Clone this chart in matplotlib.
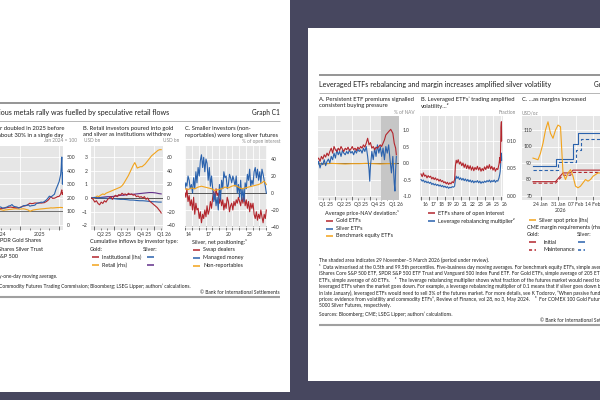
import matplotlib
matplotlib.use("Agg")
import matplotlib.pyplot as plt
import matplotlib.transforms as mtransforms
from matplotlib.patches import Rectangle
from matplotlib.lines import Line2D
from matplotlib.ticker import FormatStrFormatter

plt.rcParams['font.family'] = ['Lato', 'DejaVu Sans']

# ---------------- DATA ----------------
# Left slide, panel A (index, Jan 2024 = 100)
a_t = [2024.00, 2024.04, 2024.08, 2024.12, 2024.17, 2024.21, 2024.25, 2024.29, 2024.33, 2024.38,
       2024.42, 2024.46, 2024.50, 2024.54, 2024.58, 2024.62, 2024.67, 2024.71, 2024.75, 2024.79,
       2024.83, 2024.88, 2024.92, 2024.96, 2025.00, 2025.04, 2025.08, 2025.12, 2025.17, 2025.21,
       2025.25, 2025.29, 2025.33, 2025.38, 2025.42, 2025.46, 2025.50, 2025.54, 2025.58, 2025.62,
       2025.67, 2025.71, 2025.75, 2025.79, 2025.83, 2025.88, 2025.92, 2025.96, 2026.00, 2026.02,
       2026.04, 2026.055, 2026.065, 2026.07, 2026.08, 2026.085, 2026.09, 2026.095, 2026.10, 2026.105]
a_silver = [100, 98, 96, 99, 104, 113, 118, 124, 136, 135, 132, 128, 133, 125, 124, 128, 133, 140, 142, 150,
            138, 134, 132, 125, 128, 133, 141, 143, 145, 148, 138, 142, 143, 146, 158, 162, 164, 168, 166, 172,
            183, 196, 212, 205, 215, 226, 262, 290, 318, 345, 372, 420, 485, 500, 360, 300, 330, 385, 350, 370]
a_gold = [100, 99, 100, 103, 108, 114, 116, 114, 117, 116, 116, 118, 120, 121, 124, 125, 128, 130, 132, 130,
          128, 127, 126, 127, 130, 134, 139, 140, 144, 152, 160, 157, 158, 162, 161, 160, 162, 161, 163, 164,
          172, 180, 193, 210, 196, 197, 202, 209, 210, 218, 228, 242, 255, 258, 228, 225, 232, 238, 233, 236]
a_spx = [100, 101, 103, 105, 107, 106, 104, 107, 108, 110, 111, 112, 113, 110, 108, 111, 112, 114, 115, 116,
         118, 119, 118, 117, 116, 118, 119, 117, 113, 110, 100, 105, 110, 112, 114, 115, 117, 118, 119, 120,
         122, 123, 124, 126, 125, 126, 127, 128, 128, 129, 129, 129, 128, 128, 127, 127, 128, 128, 128, 128]
a_years = ['2024', '2025']

# Left slide, panel B (USD bn)
b_t_ret = [2025.22, 2025.25, 2025.27, 2025.29, 2025.31, 2025.33, 2025.36, 2025.38, 2025.40, 2025.42,
           2025.44, 2025.46, 2025.48, 2025.50, 2025.52, 2025.54, 2025.56, 2025.58, 2025.60, 2025.62,
           2025.64, 2025.66, 2025.68, 2025.70, 2025.72, 2025.74, 2025.76, 2025.78, 2025.79, 2025.81,
           2025.83, 2025.85, 2025.87, 2025.89, 2025.91, 2025.93, 2025.95, 2025.97, 2025.99, 2026.01,
           2026.03, 2026.05, 2026.07, 2026.09]
b_gold_retail = [0, -1, 1, 3, 2, 4, 6, 5, 7, 8, 9, 10, 11, 12, 13, 14, 15, 16, 18, 21,
                 25, 29, 33, 38, 43, 48, 52, 47, 44, 45, 46, 46, 48, 50, 53, 56, 59, 62, 64, 66,
                 68, 70, 71, 71]
b_t_inst = [2025.22, 2025.24, 2025.26, 2025.28, 2025.30, 2025.32, 2025.34, 2025.36, 2025.38, 2025.40,
            2025.42, 2025.44, 2025.46, 2025.48, 2025.50, 2025.52, 2025.54, 2025.56, 2025.58, 2025.60,
            2025.62, 2025.64, 2025.66, 2025.68, 2025.70, 2025.72, 2025.74, 2025.76, 2025.78, 2025.80,
            2025.82, 2025.84, 2025.86, 2025.88, 2025.90, 2025.92, 2025.94, 2025.96, 2025.98, 2026.00,
            2026.02, 2026.04, 2026.06, 2026.08, 2026.09]
b_gold_inst = [0, -0.1, -0.3, -0.2, -0.4, -0.5, -0.3, -0.4, -0.2, -0.3, -0.1, 0.0, 0.1, -0.1, 0.1,
               0.2, 0.1, 0.25, 0.2, 0.35, 0.25, 0.3, 0.2, 0.35, 0.25, 0.3, 0.2, 0.25, 0.1, 0.15,
               0.05, 0.1, 0.0, 0.1, -0.1, 0.0, -0.2, -0.3, -0.4, -0.5, -0.6, -0.7, -0.85, -1.0, -1.1]
b_t_slv = [2025.22, 2025.26, 2025.30, 2025.34, 2025.38, 2025.42, 2025.46, 2025.50, 2025.54, 2025.58,
           2025.62, 2025.66, 2025.70, 2025.74, 2025.78, 2025.82, 2025.86, 2025.90, 2025.94, 2025.98,
           2026.02, 2026.06, 2026.09]
b_silver_inst = [0, 0.05, 0.0, 0.02, 0.0, -0.02, -0.05, -0.05, -0.08, -0.1, -0.1, -0.12, -0.15, -0.15,
                 -0.18, -0.2, -0.2, -0.22, -0.25, -0.27, -0.28, -0.3, -0.3]
b_silver_retail = [0, 0.5, 0.2, 1, 1.5, 2, 2, 2.5, 3, 4, 4, 5, 5.5, 5.5, 6, 6.5, 7, 7.5, 8, 8, 7.5, 6.5, 6]
b_quarters = ['Q2 25', 'Q3 25', 'Q4 25', 'Q1 26']

# Left slide, panel C (% of open interest)
c_t = [2013.95, 2014.07, 2014.23, 2014.40, 2014.57, 2014.73, 2014.90, 2015.07, 2015.23, 2015.40,
       2015.57, 2015.73, 2015.90, 2016.07, 2016.23, 2016.40, 2016.57, 2016.73, 2016.90, 2017.07,
       2017.23, 2017.40, 2017.57, 2017.73, 2017.90, 2018.07, 2018.23, 2018.40, 2018.57, 2018.73,
       2018.90, 2019.07, 2019.23, 2019.40, 2019.57, 2019.73, 2019.90, 2020.07, 2020.23, 2020.40,
       2020.57, 2020.73, 2020.90, 2021.07, 2021.23, 2021.40, 2021.57, 2021.73, 2021.90, 2022.07,
       2022.23, 2022.40, 2022.57, 2022.73, 2022.90, 2023.07, 2023.23, 2023.40, 2023.57, 2023.73,
       2023.90, 2024.07, 2024.23, 2024.40, 2024.57, 2024.73, 2024.90, 2025.07, 2025.23, 2025.40,
       2025.57, 2025.73, 2025.90, 2026.05]
c_managed = [5, 12, 8, 20, 15, 5, 10, 0, 18, 5, 25, 12, 30, 20, 38, 45, 30, 42, 25, 40,
             35, 15, 30, 8, 20, 5, -10, 0, -15, -5, -20, 10, -8, 15, 5, 25, 18, 20, 5, 10,
             22, 18, 12, 20, 15, 8, 20, 0, 10, -5, 15, -8, 5, -10, 12, 5, 22, 15, 28, 8,
             15, 10, 25, 30, 18, 28, 15, 25, 12, 28, 22, 15, 8, 0]
c_swap = [0, -5, 5, -10, -3, -15, -8, -20, -5, -25, -12, -20, -18, -30, -22, -35, -25, -30, -20, -28,
          -15, -25, -20, -10, -18, -5, 2, -8, 5, -3, 0, -12, -5, -15, -8, -20, -12, -18, -5, -10,
          -22, -15, -12, -20, -10, -15, -8, -12, -5, -10, -15, -5, -12, -2, -15, -8, -18, -10, -22, -12,
          -18, -12, -25, -30, -22, -32, -25, -30, -20, -28, -35, -25, -30, -20]
c_t_nr = [2013.95, 2014.40, 2014.90, 2015.40, 2015.90, 2016.40, 2016.90, 2017.40, 2017.90, 2018.40,
          2018.90, 2019.40, 2019.90, 2020.40, 2020.90, 2021.40, 2021.90, 2022.40, 2022.90, 2023.40,
          2023.90, 2024.40, 2024.90, 2025.40, 2025.70, 2025.90, 2026.05]
c_nonrep = [5, 4, 6, 5, 7, 8, 7, 6, 5, 3, 4, 5, 7, 6, 8, 9, 7, 5, 6, 7, 8, 9, 10, 12, 14, 12, 10]
c_years = ['14', '17', '20', '23', '26']

# Right slide, panel A (% of NAV)
ra_t = [2025.00, 2025.02, 2025.04, 2025.06, 2025.08, 2025.10, 2025.12, 2025.14, 2025.16, 2025.18,
        2025.20, 2025.22, 2025.24, 2025.26, 2025.28, 2025.30, 2025.32, 2025.34, 2025.36, 2025.38,
        2025.40, 2025.42, 2025.44, 2025.46, 2025.48, 2025.50, 2025.52, 2025.54, 2025.56, 2025.58,
        2025.60, 2025.62, 2025.64, 2025.66, 2025.68, 2025.70, 2025.72, 2025.74, 2025.76, 2025.78,
        2025.80, 2025.82, 2025.84, 2025.86, 2025.88, 2025.90, 2025.92, 2025.94, 2025.96, 2025.98,
        2026.00, 2026.02, 2026.05, 2026.08, 2026.10, 2026.12, 2026.13]
ra_gold = [0.10, 0.15, 0.05, 0.20, 0.12, 0.25, 0.18, 0.30, 0.22, 0.35, 0.45, 0.30, 0.50, 0.40, 0.35,
           0.45, 0.38, 0.50, 0.42, 0.35, 0.45, 0.40, 0.48, 0.38, 0.42, 0.50, 0.40, 0.45, 0.38, 0.48,
           0.42, 0.50, 0.45, 0.55, 0.48, 0.60, 0.75, 0.55, 0.62, 0.45, 0.50, 0.40, 0.48, 0.45, 0.50,
           0.55, 0.50, 0.60, 0.70, 0.85, 0.90, 0.95, 1.02, 0.90, 0.60, 0.45, 0.25]
ra_t_s = [2025.00, 2025.02, 2025.04, 2025.06, 2025.08, 2025.10, 2025.12, 2025.14, 2025.16, 2025.18,
          2025.20, 2025.22, 2025.24, 2025.26, 2025.28, 2025.30, 2025.32, 2025.34, 2025.36, 2025.38,
          2025.40, 2025.42, 2025.44, 2025.46, 2025.48, 2025.50, 2025.52, 2025.54, 2025.56, 2025.58,
          2025.60, 2025.62, 2025.64, 2025.66, 2025.68, 2025.70, 2025.72, 2025.74, 2025.75, 2025.76,
          2025.78, 2025.80, 2025.82, 2025.84, 2025.86, 2025.88, 2025.90, 2025.92, 2025.94, 2025.96,
          2025.98, 2026.00, 2026.02, 2026.04, 2026.06, 2026.08, 2026.10, 2026.11, 2026.12, 2026.13]
ra_silver = [-0.10, 0.05, -0.15, 0.0, -0.05, 0.10, -0.08, 0.05, 0.12, 0.0, 0.20, 0.10, 0.30, 0.15, 0.40,
             0.25, 0.35, 0.20, 0.38, 0.30, 0.25, 0.35, 0.28, 0.40, 0.30, 0.35, 0.25, 0.38, 0.30, 0.42,
             0.35, 0.40, 0.30, 0.45, 0.35, 0.50, 0.20, -0.20, -0.55, -0.10, 0.35, 0.10, 0.45, 0.20, 0.55,
             0.30, 0.50, 0.20, 0.45, 0.10, 0.50, 0.30, 0.55, 0.10, -0.30, 0.20, -0.60, -0.85, -0.20, 0.20]
ra_t_e = [2025.00, 2025.10, 2025.20, 2025.30, 2025.40, 2025.50, 2025.60, 2025.70, 2025.80, 2025.90,
          2026.00, 2026.13]
ra_equity = [-0.02, -0.03, -0.01, -0.02, -0.03, -0.02, -0.02, -0.01, -0.02, -0.03, -0.02, -0.02]
ra_quarters = ['Q1 25', 'Q2 25', 'Q3 25', 'Q4 25', 'Q1 26']
ra_shade = [2025.91, 2026.17]

# Right slide, panel B (fraction)
rb_t = [2016.00, 2016.15, 2016.30, 2016.45, 2016.60, 2016.75, 2016.90, 2017.05, 2017.20, 2017.35,
        2017.50, 2017.65, 2017.80, 2017.95, 2018.10, 2018.25, 2018.40, 2018.55, 2018.70, 2018.85,
        2019.00, 2019.15, 2019.30, 2019.45, 2019.60, 2019.75, 2019.90, 2020.05, 2020.20, 2020.30,
        2020.40, 2020.50, 2020.65, 2020.80, 2020.95, 2021.10, 2021.25, 2021.40, 2021.55, 2021.70,
        2021.85, 2022.00, 2022.15, 2022.30, 2022.45, 2022.60, 2022.75, 2022.90, 2023.05, 2023.20,
        2023.35, 2023.50, 2023.65, 2023.80, 2023.95, 2024.10, 2024.25, 2024.40, 2024.55, 2024.70,
        2024.85, 2025.00, 2025.15, 2025.30, 2025.45, 2025.60, 2025.75, 2025.85, 2025.90, 2025.95,
        2026.00, 2026.05, 2026.08]
rb_share = [0.040, 0.035, 0.042, 0.036, 0.038, 0.033, 0.037, 0.034, 0.036, 0.031,
            0.034, 0.030, 0.033, 0.029, 0.031, 0.027, 0.030, 0.026, 0.028, 0.024,
            0.026, 0.022, 0.025, 0.021, 0.024, 0.022, 0.026, 0.024, 0.030, 0.055,
            0.065, 0.060, 0.066, 0.058, 0.062, 0.055, 0.060, 0.052, 0.058, 0.050,
            0.056, 0.049, 0.055, 0.047, 0.053, 0.046, 0.052, 0.048, 0.054, 0.047,
            0.052, 0.045, 0.050, 0.046, 0.053, 0.048, 0.055, 0.050, 0.057, 0.049,
            0.054, 0.047, 0.052, 0.045, 0.050, 0.048, 0.058, 0.070, 0.060, 0.085,
            0.125, 0.135, 0.100]
rb_mult = [0.030, 0.027, 0.029, 0.025, 0.027, 0.024, 0.026, 0.023, 0.025, 0.021,
           0.023, 0.020, 0.022, 0.019, 0.021, 0.018, 0.020, 0.017, 0.019, 0.016,
           0.018, 0.015, 0.017, 0.014, 0.016, 0.015, 0.017, 0.016, 0.018, 0.030,
           0.036, 0.032, 0.035, 0.030, 0.033, 0.029, 0.032, 0.028, 0.031, 0.027,
           0.030, 0.026, 0.029, 0.025, 0.028, 0.024, 0.027, 0.025, 0.028, 0.024,
           0.027, 0.023, 0.026, 0.024, 0.027, 0.025, 0.028, 0.026, 0.029, 0.025,
           0.028, 0.026, 0.029, 0.025, 0.028, 0.027, 0.033, 0.040, 0.045, 0.055,
           0.070, 0.078, 0.065]
rb_years = ['16', '17', '18', '19', '20', '21', '22', '23', '24', '25', '26']

# Right slide, panel C (day of Jan 2026; Feb d = 31 + d)
rc_days = [21, 22, 23, 24, 25, 26, 27, 28, 29, 30, 31, 32, 33, 34, 35, 36, 37, 38, 39, 40,
           41, 42, 43, 44, 45, 46, 47, 48]
rc_silver = [93, 92.5, 92, 96, 102, 110, 115, 108, 105, 110, 113, 112, 84, 80, 84, 86, 82, 76, 75, 76,
             78, 80, 79, 80, 82, 83, 84, 84]
rc_si_days = [21, 30, 37, 39, 66]
rc_silver_init = [88, 92.3, 101.5, 108, 108]
rc_sm_days = [21, 31, 38, 40, 66]
rc_silver_maint = [85.8, 90.8, 97.9, 104.4, 104.4]
rc_g_days = [21, 30, 33, 36, 37, 66]
rc_gold_init = [78.7, 78.7, 84, 84, 85.7, 85.7]
rc_gold_maint = [77.8, 77.8, 82.6, 82.6, 84.3, 84.3]
rc_yticks = [70, 80, 90, 100, 110]
rc_ticks = [24, 31, 38, 45]
rc_labels = ['24 Jan', '31 Jan', '07 Feb', '14 Feb']

# ---------------- STYLE ----------------
NAVY = '#47475f'
PLOTBG = '#e6e6e6'
RED = '#b3262d'
BLUE = '#2a62ad'
ORANGE = '#f2a31b'
PURPLE = '#62308a'
TXT = '#1e1e1e'
GREY = '#8a8a8a'
S_TITLE = 5.1
S_PANEL = 4.2
S_UNIT = 3.4
S_TICK = 3.6
S_LEG = 4.0
S_FOOT = 3.5
LW = 0.8

W, H = 600, 400
fig = plt.figure(figsize=(6, 4), dpi=100, facecolor=NAVY)
renderer = fig.canvas.get_renderer()


def fx(x):
    return x / W


def fy(y):
    return 1 - y / H


def text_width(s, size):
    t = fig.text(0, 0, s, fontsize=size)
    w = t.get_window_extent(renderer).width
    t.remove()
    return w


def rect(x0, y0, x1, y1, color):
    fig.patches.append(Rectangle((fx(x0), fy(y1)), (x1 - x0) / W, (y1 - y0) / H,
                                 transform=fig.transFigure, facecolor=color,
                                 edgecolor='none', zorder=-10))


def hline(x0, x1, y, lw, color):
    fig.add_artist(Line2D([fx(x0), fx(x1)], [fy(y), fy(y)], transform=fig.transFigure,
                          lw=lw, color=color, solid_capstyle='butt'))


def dash_mark(x0, x1, y, color):
    fig.add_artist(Line2D([fx(x0), fx(x1)], [fy(y), fy(y)], transform=fig.transFigure,
                          lw=1.1, color=color, dashes=(2, 1.6)))


def txt(x, y, s, size, color=TXT, ha='left', va='center', **kw):
    fig.text(fx(x), fy(y), s, fontsize=size, color=color, ha=ha, va=va, **kw)


def make_axes(x0, y0, x1, y1, right=True):
    ax = fig.add_axes([fx(x0), fy(y1), (x1 - x0) / W, (y1 - y0) / H])
    ax.set_facecolor(PLOTBG)
    for s in ax.spines.values():
        s.set_visible(False)
    ax.tick_params(axis='x', which='major', direction='in', length=2.6, width=0.6,
                   color='#555', labelbottom=False)
    ax.tick_params(axis='x', which='minor', direction='in', length=1.4, width=0.5,
                   color='#555')
    ax.tick_params(axis='y', length=0, labelsize=S_TICK, labelcolor='#333', pad=2.6)
    if right:
        ax.yaxis.tick_right()
    ax.grid(True, which='major', color='white', lw=0.6)
    ax.set_axisbelow(True)
    return ax


def xlabels(ax, pos, labels, dy=1.5):
    trans = mtransforms.offset_copy(ax.get_xaxis_transform(), fig=fig, y=-dy, units='points')
    for p, l in zip(pos, labels):
        ax.text(p, 0, l, transform=trans, ha='center', va='top', fontsize=S_TICK,
                color='#333', clip_on=False)


def legline(x0, y, color, ls='-'):
    if ls == '-':
        hline(x0, x0 + 7, y, 1.1, color)
    else:
        dash_mark(x0, x0 + 7, y, color)


# ---------------- SLIDES ----------------
rect(0, 0, 290, 392, 'white')
rect(308, 28, 640, 381, 'white')

# ===== Left slide =====
hline(-5, 280, 103, 1.3, '#8c8c8c')
title_l = 'Precious metals rally was fuelled by speculative retail flows'
txt(-text_width('Preci', S_TITLE) + 0.5, 113, title_l, S_TITLE)
txt(280, 113, 'Graph C1', S_TITLE * 0.93, ha='right')
hline(-5, 280, 121, 0.5, '#9a9a9a')

xa = -text_width('A. Silve', S_PANEL) + 0.5
txt(xa, 128.5, 'A. Silver doubled in 2025 before', S_PANEL)
txt(xa, 135, 'falling about 30% in a single day', S_PANEL)
txt(83, 128.5, 'B. Retail investors poured into gold', S_PANEL)
txt(83, 135, 'and silver as institutions withdrew', S_PANEL)
txt(185, 128.5, 'C. Smaller investors (non-', S_PANEL)
txt(185, 135, 'reportables) were long silver futures', S_PANEL)

txt(77, 141, 'Jan 2024 = 100', S_UNIT, color=GREY, ha='right')
txt(84, 141, 'USD bn', S_UNIT, color=GREY)
txt(179, 141, 'USD bn', S_UNIT, color=GREY, ha='right')
txt(280, 141, '% of open interest', S_UNIT, color=GREY, ha='right')

# Panel A
axA = make_axes(-20, 146, 63, 230)
axA.axhline(100, color='#6e6e6e', lw=0.7, zorder=1)
axA.plot(a_t, a_spx, color=ORANGE, lw=LW)
axA.plot(a_t, a_gold, color=RED, lw=LW)
axA.plot(a_t, a_silver, color=BLUE, lw=LW)
axA.set_xlim(2023.97, 2026.1)
axA.set_ylim(-37, 581)
axA.set_yticks([0, 100, 200, 300, 400, 500])
axA.set_xticks([2024, 2025, 2026])
axA.set_xticks([2024.25, 2024.5, 2024.75, 2025.25, 2025.5, 2025.75], minor=True)
xlabels(axA, [2024.5, 2025.5], a_years)

# Panel B
axB = make_axes(91, 146, 163, 230, right=False)
axB2 = axB.twinx()
for s in axB2.spines.values():
    s.set_visible(False)
axB2.tick_params(axis='y', length=0, labelsize=S_TICK, labelcolor='#333', pad=2.6)
axB.axhline(0, color='#555', lw=0.7, zorder=1)
axB2.plot(b_t_ret, b_gold_retail, color=ORANGE, lw=LW)
axB2.plot(b_t_slv, b_silver_retail, color=PURPLE, lw=LW)
axB2.plot(b_t_slv, b_silver_inst, color=BLUE, lw=LW, transform=axB.transData)
axB2.plot(b_t_inst, b_gold_inst, color=RED, lw=LW, transform=axB.transData)
axB.set_xlim(2025.2125, 2026.1125)
axB2.set_xlim(2025.2125, 2026.1125)
axB.set_ylim(-2.35, 3.82)
axB2.set_ylim(-47, 76.4)
axB.set_yticks([-2, -1, 0, 1, 2, 3])
axB2.set_yticks([-40, -20, 0, 20, 40, 60])
axB.set_xticks([2025.25, 2025.5, 2025.75, 2026.0])
axB.set_xticks([2025.333, 2025.417, 2025.583, 2025.667, 2025.833, 2025.917, 2026.083], minor=True)
xlabels(axB, [2025.375, 2025.625, 2025.875, 2026.125], b_quarters)

# Panel C
axC = make_axes(185, 146, 267, 230)
axC.axhline(0, color='#555', lw=0.7, zorder=1)
axC.plot(c_t, c_swap, color=RED, lw=LW)
axC.plot(c_t, c_managed, color=BLUE, lw=LW)
axC.plot(c_t_nr, c_nonrep, color=ORANGE, lw=LW)
axC.set_xlim(2013.95, 2026.15)
axC.set_ylim(-43.5, 55.3)
axC.set_yticks([-40, -20, 0, 20, 40])
axC.set_xticks(list(range(2014, 2027)))
xlabels(axC, [2014.5, 2017.5, 2020.5, 2023.5, 2026.5], c_years)

# Legends left slide
txt(-3, 241, 'SPDR Gold Shares', S_LEG)
txt(-3, 249, 'iShares Silver Trust', S_LEG)
txt(-3, 257, 'S&P 500', S_LEG)

txt(90, 242, 'Cumulative inflows by investor type:', S_LEG)
txt(90, 249, 'Gold:', S_LEG)
txt(143, 249, 'Silver:', S_LEG)
legline(92, 257, RED)
txt(102, 257, 'Institutional (lhs)', S_LEG)
legline(147, 257, BLUE)
legline(92, 265, ORANGE)
txt(102, 265, 'Retail (rhs)', S_LEG)
legline(147, 265, PURPLE)

txt(192, 242, 'Silver, net positioning:\u00b9', S_LEG)
legline(193, 250, RED)
txt(203, 250, 'Swap dealers', S_LEG)
legline(193, 258, BLUE)
txt(203, 258, 'Managed money', S_LEG)
legline(193, 265.5, ORANGE)
txt(203, 265.5, 'Non-reportables', S_LEG)

txt(57, 276, '\u00b9  Twenty-one-day moving average.', S_FOOT, ha='right')
txt(190.5, 286, 'Sources: US Commodity Futures Trading Commission; Bloomberg; LSEG Lipper; authors\u2019 calculations.',
    S_FOOT, ha='right')
txt(280, 292, '\u00a9 Bank for International Settlements', S_FOOT, ha='right')
hline(-5, 280, 296.5, 1.5, '#a0a0a0')

# ===== Right slide =====
hline(319, 640, 75, 1.3, '#8c8c8c')
txt(319, 84, 'Leveraged ETFs rebalancing and margin increases amplified silver volatility', S_TITLE)
txt(594, 84, 'Graph C2', S_TITLE * 0.93)
hline(319, 640, 93, 0.5, '#9a9a9a')

txt(319, 99.5, 'A. Persistent ETF premiums signalled', S_PANEL)
txt(319, 106, 'consistent buying pressure', S_PANEL)
txt(421, 99.5, 'B. Leveraged ETFs\u2019 trading amplified', S_PANEL)
txt(421, 106, 'volatility\u2026\u00b2', S_PANEL)
txt(522, 99.5, 'C. \u2026as margins increased', S_PANEL)

txt(415, 113, '% of NAV', S_UNIT, color=GREY, ha='right')
txt(516, 113, 'Fraction', S_UNIT, color=GREY, ha='right')
txt(522, 113, 'USD/oz', S_UNIT, color=GREY)

# Panel A (right)
rA = make_axes(318, 116, 399, 200)
rA.axvspan(ra_shade[0], ra_shade[1], color='#c6c6c6', lw=0, zorder=0.8)
rA.axhline(0, color='#555', lw=0.7, zorder=1)
rA.plot(ra_t_e, ra_equity, color=ORANGE, lw=LW)
rA.plot(ra_t_s, ra_silver, color=BLUE, lw=LW)
rA.plot(ra_t, ra_gold, color=RED, lw=LW)
rA.set_xlim(2025.011, 2026.168)
rA.set_ylim(-1.12, 1.424)
rA.set_yticks([-1.0, -0.5, 0.0, 0.5, 1.0])
rA.yaxis.set_major_formatter(FormatStrFormatter('%.1f'))
rA.set_xticks([2025.25, 2025.5, 2025.75, 2026.0])
rA.set_xticks([2025.083, 2025.167, 2025.333, 2025.417, 2025.583, 2025.667, 2025.833,
               2025.917, 2026.083], minor=True)
xlabels(rA, [2025.125, 2025.375, 2025.625, 2025.875, 2026.125], ra_quarters)

# Panel B (right)
rB = make_axes(420, 116, 503, 200)
rB.plot(rb_t, rb_mult, color=BLUE, lw=LW)
rB.plot(rb_t, rb_share, color=RED, lw=LW)
rB.set_xlim(2015.875, 2026.25)
rB.set_ylim(-0.0073, 0.1455)
rB.set_yticks([0.0, 0.05, 0.10])
rB.yaxis.set_major_formatter(FormatStrFormatter('%.2f'))
rB.set_xticks(list(range(2016, 2027)))
xlabels(rB, [y + 0.5 for y in range(2016, 2027)], rb_years)

# Panel C (right): plot area starts at x=522, lhs labels sit inside it
rC = make_axes(522, 116, 640, 200, right=False)
rC.plot(rc_g_days, rc_gold_maint, color=RED, lw=LW, dashes=(3, 2))
rC.plot(rc_g_days, rc_gold_init, color=RED, lw=LW)
rC.plot(rc_sm_days, rc_silver_maint, color=BLUE, lw=LW, dashes=(3, 2), drawstyle='steps-post')
rC.plot(rc_si_days, rc_silver_init, color=BLUE, lw=LW, drawstyle='steps-post')
rC.plot(rc_days, rc_silver, color=ORANGE, lw=LW)
rC.set_xlim(21 - 11 / 2.5, 21 - 11 / 2.5 + 118 / 2.5)
rC.set_ylim(67.6, 118.5)
rC.set_yticks(rc_yticks)
rC.tick_params(axis='y', labelleft=False)
ylab_tr = mtransforms.blended_transform_factory(fig.transFigure, rC.transData)
for v in rc_yticks:
    rC.text(fx(532), v, str(v), transform=ylab_tr, ha='right', va='center',
            fontsize=S_TICK, color='#333', clip_on=False)
rC.set_xticks(rc_ticks)
xlabels(rC, rc_ticks, rc_labels)
txt(561, 211, '2026', S_TICK, color='#333', ha='center')

# Legends right slide
txt(325, 213, 'Average price-NAV deviation:\u00b9', S_LEG)
legline(326, 221, RED)
txt(336, 221, 'Gold ETFs', S_LEG)
legline(326, 228.5, BLUE)
txt(336, 228.5, 'Silver ETFs', S_LEG)
legline(326, 236, ORANGE)
txt(336, 236, 'Benchmark equity ETFs', S_LEG)

legline(428, 213, RED)
txt(438, 213, 'ETFs share of open interest', S_LEG)
legline(428, 221, BLUE)
txt(438, 221, 'Leverage rebalancing multiplier\u00b2', S_LEG)

legline(529, 220, ORANGE)
txt(539, 220, 'Silver spot price (lhs)', S_LEG)
txt(527, 227.5, 'CME margin requirements (rhs)\u00b3', S_LEG)
txt(527, 234, 'Gold:', S_LEG)
txt(577, 234, 'Silver:', S_LEG)
legline(529, 242, RED)
txt(543, 242, 'Initial', S_LEG)
legline(578, 242, BLUE)
legline(529, 249.5, RED, ls='--')
txt(543, 249.5, 'Maintenance', S_LEG)
legline(578, 249.5, BLUE, ls='--')

foot = [
    (260, 'The shaded area indicates 29 November\u20135 March 2026 (period under review).'),
    (267, '\u00b9  Data winsorised at the 0.5th and 99.5th percentiles. Five-business day moving averages. For benchmark equity ETFs, simple average of'),
    (273.5, 'iShares Core S&P 500 ETF, SPDR S&P 500 ETF Trust and Vanguard 500 Index Fund ETF. For Gold ETFs, simple average of 205 ETFs. For Silver'),
    (280, 'ETFs, simple average of 60 ETFs.    \u00b2  The leverage rebalancing multiplier shows what fraction of the futures market would need to be traded by'),
    (286.5, 'leveraged ETFs when the market goes down. For example, a leverage rebalancing multiplier of 0.1 means that if silver goes down by 10% (as it did'),
    (293, 'in late January), leveraged ETFs would need to sell 3% of the futures market. For more details, see K Todorov, \u201cWhen passive funds affect'),
    (299.5, 'prices: evidence from volatility and commodity ETFs\u201d, Review of Finance, vol 28, no 3, May 2024.    \u00b3  For COMEX 100 Gold Futures and'),
    (306, '5000 Silver Futures, respectively.'),
    (314, 'Sources: Bloomberg; CME; LSEG Lipper; authors\u2019 calculations.'),
]
for y, s in foot:
    txt(319, y, s, S_FOOT)
txt(540, 320, '\u00a9 Bank for International Settlements', S_FOOT)
hline(319, 640, 324.5, 1.5, '#a0a0a0')

fig.savefig('out.png', dpi=100, facecolor=NAVY)
